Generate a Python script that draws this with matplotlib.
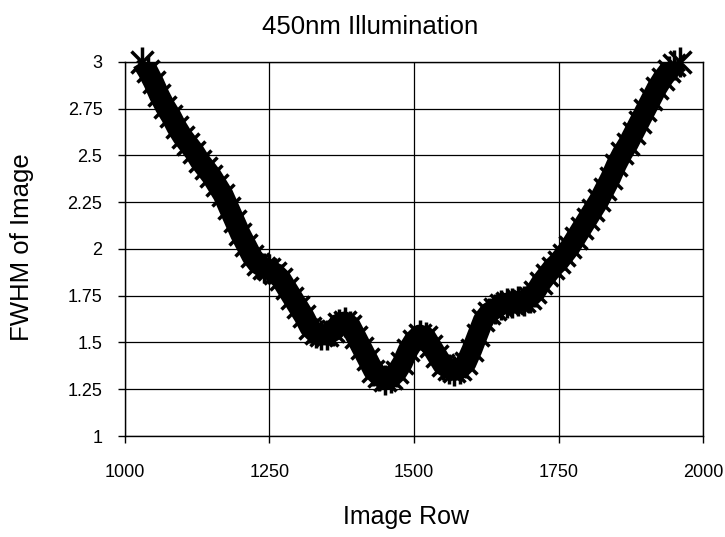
import numpy as np
import matplotlib.pyplot as plt

plt.rcParams['font.family'] = ['Liberation Sans', 'DejaVu Sans']

# FWHM, every 10 image rows
rows = np.arange(1030, 1970, 10)
fwhm = [3.00, 2.95, 2.89, 2.82, 2.76, 2.71, 2.65, 2.60, 2.56, 2.52,
        2.47, 2.43, 2.39, 2.34, 2.29, 2.22, 2.15, 2.08, 2.02, 1.96,
        1.92, 1.90, 1.89, 1.87, 1.84, 1.79, 1.74, 1.69, 1.64, 1.58,
        1.55, 1.54, 1.54, 1.56, 1.60, 1.61, 1.59, 1.53, 1.47, 1.41,
        1.35, 1.32, 1.30, 1.31, 1.34, 1.39, 1.46, 1.51, 1.54, 1.53,
        1.48, 1.43, 1.38, 1.36, 1.35, 1.36, 1.39, 1.46, 1.54, 1.62,
        1.66, 1.68, 1.70, 1.71, 1.71, 1.72, 1.72, 1.74, 1.77, 1.82,
        1.86, 1.90, 1.93, 1.97, 2.01, 2.06, 2.11, 2.16, 2.21, 2.26,
        2.32, 2.38, 2.45, 2.51, 2.56, 2.62, 2.68, 2.74, 2.80, 2.86,
        2.91, 2.95, 2.98, 3.00]

xticks = [1000, 1250, 1500, 1750, 2000]
yticks = [1, 1.25, 1.5, 1.75, 2, 2.25, 2.5, 2.75, 3]
ytick_labels = ["1", "1.25", "1.5", "1.75", "2", "2.25", "2.5", "2.75", "3"]

fig = plt.figure(figsize=(7.25, 5.37), dpi=100)
ax = fig.add_axes([0.172, 0.188, 0.798, 0.697])

# thick band made of star-like markers (x plus vertical bar)
ax.plot(rows, fwhm, color="black", linewidth=15, solid_capstyle="butt", zorder=3)
ax.plot(rows, fwhm, linestyle="none", marker="x", markersize=16,
        markeredgewidth=2.5, color="black", clip_on=False, zorder=4)
ax.plot(rows, fwhm, linestyle="none", marker="|", markersize=22,
        markeredgewidth=2.5, color="black", clip_on=False, zorder=4)

ax.set_xlim(1000, 2000)
ax.set_ylim(1, 3)
ax.set_xticks(xticks)
ax.set_yticks(yticks)
ax.set_yticklabels(ytick_labels)
ax.tick_params(axis="both", direction="out", length=5, width=1,
               labelsize=13, color="black")
ax.tick_params(axis="x", pad=15)
ax.tick_params(axis="y", pad=11)
ax.grid(True, color="black", linewidth=0.9)
ax.set_axisbelow(True)
for s in ax.spines.values():
    s.set_color("black")
    s.set_linewidth(1)

fig.text(0.51, 0.95, "450nm Illumination", ha="center", va="center", fontsize=18.5)
fig.text(0.56, 0.037, "Image Row", ha="center", va="center", fontsize=18)
fig.text(0.03, 0.54, "FWHM of Image", ha="center", va="center",
         rotation=90, fontsize=18.5)

fig.savefig("out.png", dpi=100)
